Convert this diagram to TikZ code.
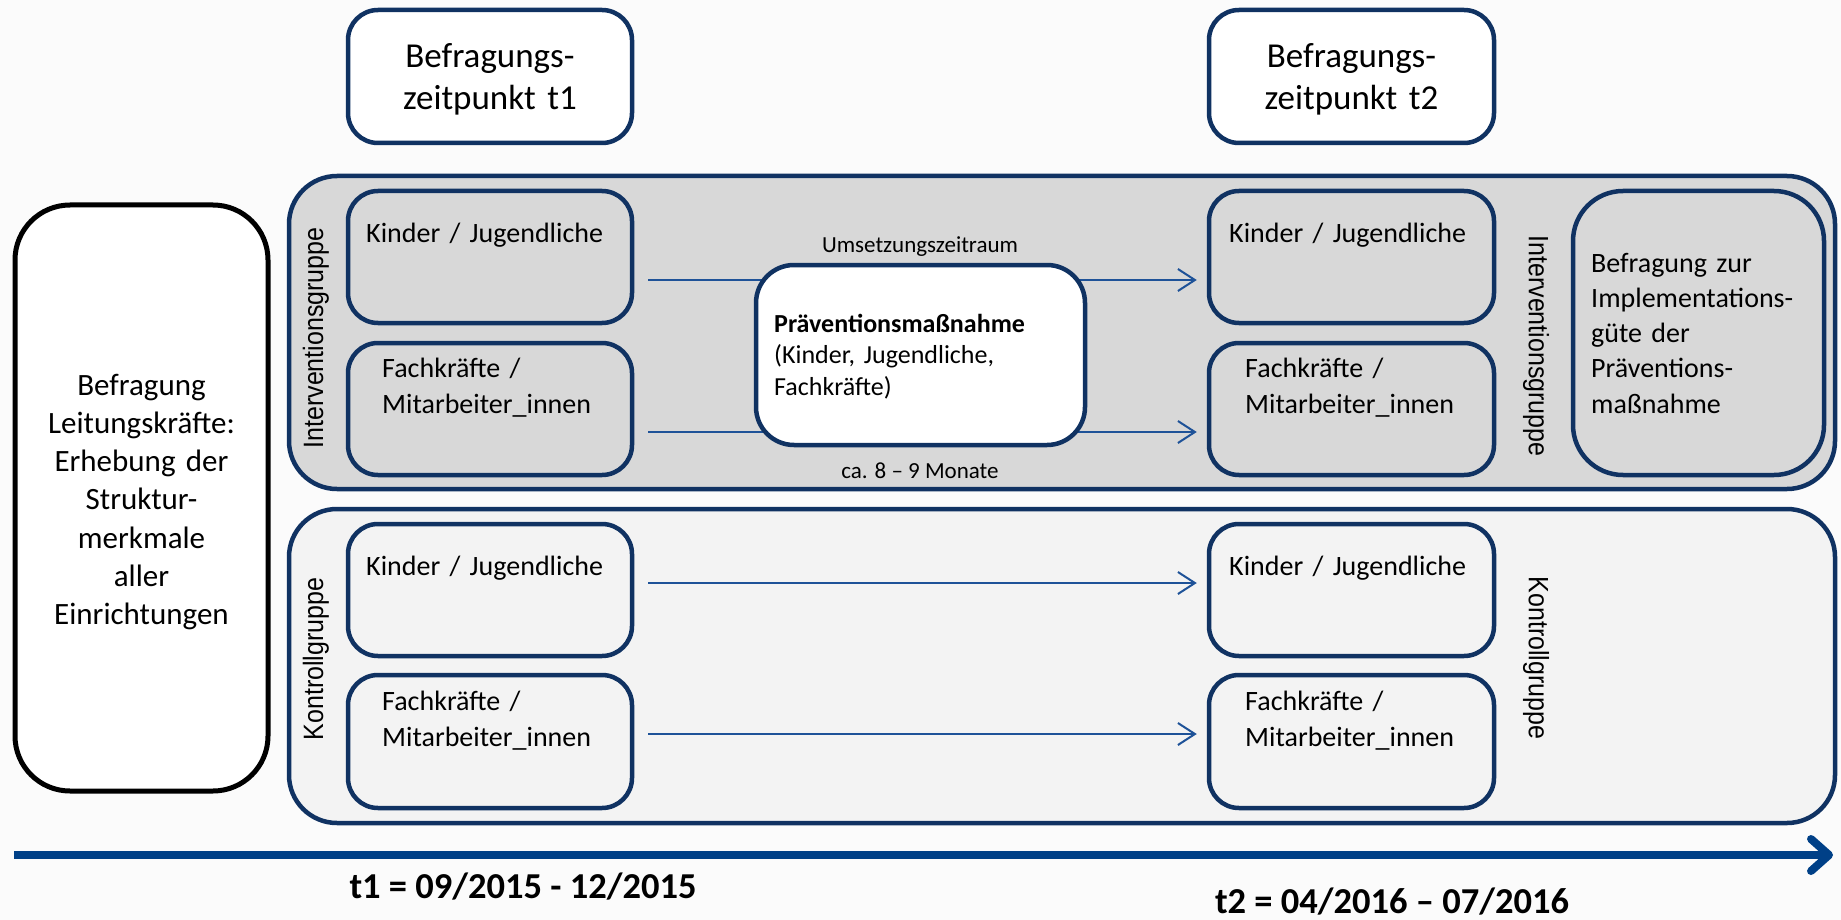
\documentclass[tikz,border=0pt]{standalone}
\usepackage{fontspec}
\setmainfont{Carlito}
\newfontfamily\vfont{Liberation Sans}
\usetikzlibrary{arrows.meta,calc}
\definecolor{navy}{RGB}{16,50,98}
\definecolor{connc}{RGB}{30,82,152}
\definecolor{tline}{RGB}{0,64,135}
\definecolor{igfill}{RGB}{216,216,216}
\definecolor{kgfill}{RGB}{243,243,243}
\definecolor{bgc}{RGB}{251,251,251}
\begin{document}
\begin{tikzpicture}[x=1pt,y=-1pt,
  box/.style={draw=navy, line width=4.5pt, rounded corners=30pt, inner sep=0pt, rectangle},
  hdrbox/.style={box, fill=white},
  igbox/.style={box, fill=igfill},
  kgbox/.style={box, fill=kgfill},
  hdrtxt/.style={inner sep=0pt, text width=300pt, align=center, anchor=base, font=\fontsize{35}{42}\selectfont},
  lt/.style={inner sep=0pt, text width=270pt, align=left, anchor=base west, font=\fontsize{28}{36}\selectfont},
  smalltxt/.style={inner sep=0pt, anchor=base, font=\fontsize{23}{28}\selectfont},
  vl/.style={inner sep=0pt, font=\vfont\fontsize{25}{30}\selectfont},
  connarrow/.style={draw=connc, line width=2pt, -{Straight Barb[length=17pt,width=22pt]}},
  tlabel/.style={inner sep=0pt, anchor=base, font=\bfseries\fontsize{36.5}{42}\selectfont}
]
\useasboundingbox (0,0) rectangle (1841,920);
\fill[bgc] (0,0) rectangle (1841,920);

% header boxes
\node[hdrbox, minimum width=284pt, minimum height=133pt] (h1) at (490,76.5) {};
\node[hdrbox, minimum width=285pt, minimum height=133pt] (h2) at (1351.5,76.5) {};
\node[hdrtxt] (h1t) at (490,68) {Befragungs-\\zeitpunkt t1};
\node[hdrtxt] (h2t) at (1351.5,68) {Befragungs-\\zeitpunkt t2};

% Leitung box
\node[box, draw=black, line width=5pt, fill=white, rounded corners=55pt, minimum width=253pt, minimum height=586pt] (lk) at (141.5,498) {};
\node[inner sep=0pt, text width=250pt, align=center, anchor=base, font=\fontsize{31}{38.3}\selectfont] (lkt) at (141.5,395)
  {Befragung\\Leitungskräfte:\\Erhebung der\\Struktur-\\merkmale\\aller\\Einrichtungen};

% group boxes
\node[igbox, rounded corners=48pt, minimum width=1546pt, minimum height=313pt] (ig) at (1062,332.5) {};
\node[kgbox, rounded corners=48pt, minimum width=1546pt, minimum height=314pt] (kg) at (1062,666) {};

% vertical labels
\node[vl, rotate=90] (igl) at (316,338) {\scalebox{1}[1.12]{Interventionsgruppe}};
\node[vl, rotate=-90] (igr) at (1536,346) {\scalebox{1}[1.12]{Interventionsgruppe}};
\node[vl, rotate=90] (kgl) at (316,659) {\scalebox{1}[1.12]{Kontrollgruppe}};
\node[vl, rotate=-90] (kgr) at (1536,658) {\scalebox{1}[1.12]{Kontrollgruppe}};

% inner boxes
\node[igbox, minimum width=284pt, minimum height=132pt] (ik1) at (490,257) {};
\node[igbox, minimum width=284pt, minimum height=132pt] (if1) at (490,409) {};
\node[igbox, minimum width=285pt, minimum height=132pt] (ik2) at (1351.5,257) {};
\node[igbox, minimum width=285pt, minimum height=132pt] (if2) at (1351.5,409) {};
\node[kgbox, minimum width=284pt, minimum height=132pt] (kk1) at (490,590) {};
\node[kgbox, minimum width=284pt, minimum height=133pt] (kf1) at (490,741.5) {};
\node[kgbox, minimum width=285pt, minimum height=132pt] (kk2) at (1351.5,590) {};
\node[kgbox, minimum width=285pt, minimum height=133pt] (kf2) at (1351.5,741.5) {};
\node[igbox, rounded corners=50pt, minimum width=251pt, minimum height=284pt] (bz) at (1698.5,333) {};

\node[lt] (ik1t) at (366,242) {Kinder / Jugendliche};
\node[lt] (if1t) at (382,377) {Fachkräfte /\\Mitarbeiter\_innen};
\node[lt] (ik2t) at (1229,242) {Kinder / Jugendliche};
\node[lt] (if2t) at (1245,377) {Fachkräfte /\\Mitarbeiter\_innen};
\node[lt] (kk1t) at (366,575) {Kinder / Jugendliche};
\node[lt] (kf1t) at (382,710) {Fachkräfte /\\Mitarbeiter\_innen};
\node[lt] (kk2t) at (1229,575) {Kinder / Jugendliche};
\node[lt] (kf2t) at (1245,710) {Fachkräfte /\\Mitarbeiter\_innen};
\node[lt, text width=240pt, font=\fontsize{28}{35.3}\selectfont] (bzt) at (1591,272)
  {Befragung zur\\Implementations-\\güte der\\Präventions-\\maßnahme};

% connectors
\coordinate (r1) at (0,280);
\coordinate (r2) at (0,432);
\coordinate (r3) at (0,583);
\coordinate (r4) at (0,734);
\draw[connarrow, shorten <=14pt, shorten >=10pt] (ik1.east |- r1) -- (ik2.west |- r1);
\draw[connarrow, shorten <=14pt, shorten >=10pt] (if1.east |- r2) -- (if2.west |- r2);
\draw[connarrow, shorten <=14pt, shorten >=10pt] (kk1.east |- r3) -- (kk2.west |- r3);
\draw[connarrow, shorten <=14pt, shorten >=10pt] (kf1.east |- r4) -- (kf2.west |- r4);

% Praevention box
\node[box, fill=white, rounded corners=38pt, minimum width=329pt, minimum height=180pt] (pr) at (920.5,355) {};
\node[lt, text width=310pt, font=\fontsize{26}{31.5}\selectfont] (prt) at (774,332)
  {\textbf{Präventionsmaßnahme}\\(Kinder, Jugendliche,\\Fachkräfte)};
\node[smalltxt] (um) at (920,252) {Umsetzungszeitraum};
\node[smalltxt] (ca) at (920,478) {ca. 8 – 9 Monate};

% timeline
\coordinate (tl0) at (14,855);
\coordinate (tl1) at (1833,855);
\draw[draw=tline, line width=8pt, -{Straight Barb[length=18pt,width=32pt,round]}] (tl0) -- (tl1);
\node[tlabel] (t1l) at (523,898) {t1 = 09/2015 - 12/2015};
\node[tlabel] (t2l) at (1392,913) {t2 = 04/2016 – 07/2016};
\end{tikzpicture}
\end{document}
